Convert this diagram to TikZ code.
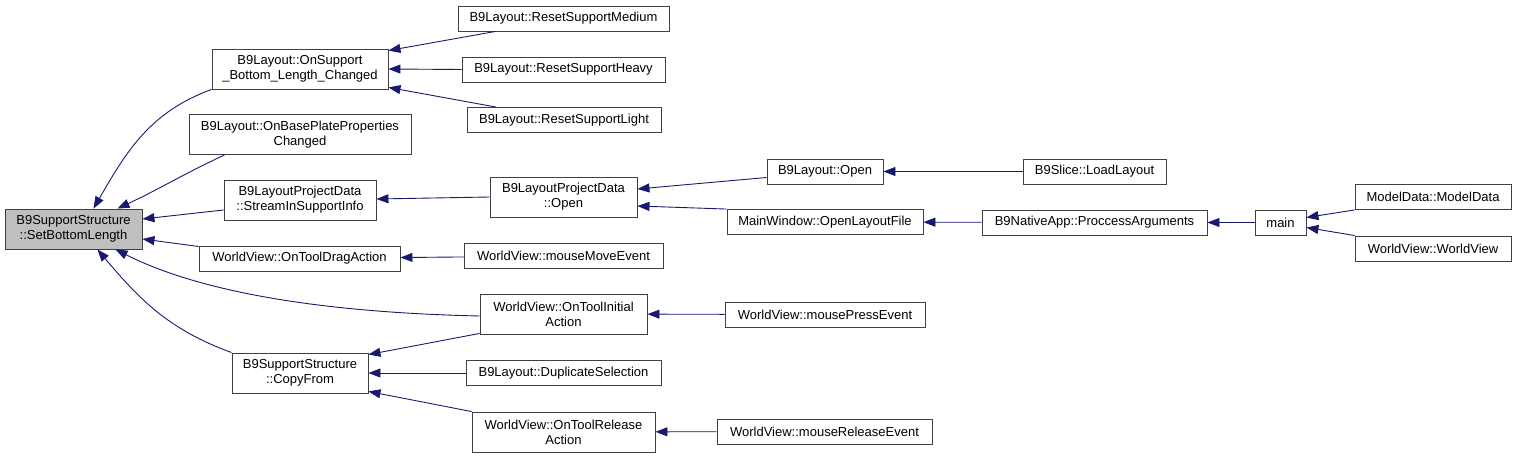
\documentclass[tikz,border=0pt]{standalone}
\usepackage{fontspec}
\setmainfont{Liberation Sans}
\usepackage{tikz}
\usetikzlibrary{arrows.meta}
\definecolor{dxblue}{HTML}{191970}
\definecolor{dxgrey}{HTML}{BFBFBF}
\definecolor{dxline}{HTML}{404040}

\begin{document}
\begin{tikzpicture}[x=1pt, y=1pt, font=\fontsize{13}{15}\selectfont,
        fn/.style={draw=dxline, line width=0.9pt, fill=white, align=center, inner sep=0pt, minimum height=25pt},
        fn2/.style={fn, minimum height=40pt},
        call/.style={draw=dxblue, line width=0.9pt, -{Triangle[length=12pt, width=9pt]}}]
        \useasboundingbox (0,0) rectangle (1517,-457);
        \node[fn2, fill=dxgrey, minimum width=137pt] (sbl) at (73.5,-229) {B9SupportStructure\\::SetBottomLength};
        \node[fn2, minimum width=176pt] (onsup) at (300,-69) {B9Layout::OnSupport\\\_Bottom\_Length\_Changed};
        \node[fn2, minimum width=222pt] (onbase) at (300,-134.5) {B9Layout::OnBasePlateProperties\\Changed};
        \node[fn2, minimum width=152pt] (stream) at (300,-200) {B9LayoutProjectData\\::StreamInSupportInfo};
        \node[fn, minimum width=201pt] (drag) at (299.5,-258.5) {WorldView::OnToolDragAction};
        \node[fn2, minimum width=136pt] (copy) at (300,-373) {B9SupportStructure\\::CopyFrom};
        \node[fn, minimum width=211pt] (medium) at (563.5,-18.5) {B9Layout::ResetSupportMedium};
        \node[fn, minimum width=203pt] (heavy) at (563.5,-69.5) {B9Layout::ResetSupportHeavy};
        \node[fn, minimum width=194pt] (light) at (564,-120) {B9Layout::ResetSupportLight};
        \node[fn2, minimum width=147pt] (pdopen) at (563.5,-197) {B9LayoutProjectData\\::Open};
        \node[fn, minimum width=199pt] (move) at (563.5,-256) {WorldView::mouseMoveEvent};
        \node[fn2, minimum width=167pt] (initial) at (563.5,-314) {WorldView::OnToolInitial\\Action};
        \node[fn, minimum width=195pt] (dup) at (563.5,-373) {B9Layout::DuplicateSelection};
        \node[fn2, minimum width=183pt] (release) at (563.5,-432) {WorldView::OnToolRelease\\Action};
        \node[fn, minimum width=116pt] (lopen) at (825,-171.5) {B9Layout::Open};
        \node[fn, minimum width=196pt] (openfile) at (825,-222) {MainWindow::OpenLayoutFile};
        \node[fn, minimum width=200pt] (press) at (825,-314.5) {WorldView::mousePressEvent};
        \node[fn, minimum width=215pt] (relev) at (824.5,-431.5) {WorldView::mouseReleaseEvent};
        \node[fn, minimum width=143pt] (load) at (1094.5,-171.5) {B9Slice::LoadLayout};
        \node[fn, minimum width=225pt] (native) at (1094.5,-222.5) {B9NativeApp::ProccessArguments};
        \node[fn, minimum width=51pt] (main) at (1280.5,-222.5) {main};
        \node[fn, minimum width=156pt] (model) at (1433,-197) {ModelData::ModelData};
        \node[fn, minimum width=156pt] (wview) at (1433,-248.5) {WorldView::WorldView};
        \draw[call] (onsup.south west) to[out=200, in=60] ([xshift=20pt]sbl.north);
        \draw[call] ([xshift=36pt]onbase.south west) to[out=205, in=25] ([xshift=44pt]sbl.north);
        \draw[call] ([yshift=-10pt]stream.west) -- ([yshift=10pt]sbl.east);
        \draw[call] ([yshift=12pt]drag.west) -- ([yshift=-10pt]sbl.east);
        \draw[call] ([yshift=-2pt]initial.west) .. controls (300,-312) and (190,-287) .. ([xshift=42pt]sbl.south);
        \draw[call] (copy.north west) to[out=160, in=-50] ([xshift=24pt]sbl.south);
        \draw[call] ([xshift=-68pt]medium.south) -- ([yshift=-2pt]onsup.north east);
        \draw[call] (heavy.west) -- (onsup.east);
        \draw[call] ([xshift=-68pt]light.north) -- ([yshift=2pt]onsup.south east);
        \draw[call] (pdopen.west) -- ([yshift=1pt]stream.east);
        \draw[call] ([yshift=-6pt]lopen.west) -- ([yshift=8pt]pdopen.east);
        \draw[call] (openfile.north west) -- ([yshift=-9pt]pdopen.east);
        \draw[call] (load) -- (lopen);
        \draw[call] (native) -- (openfile);
        \draw[call] (main) -- (native);
        \draw[call] (model.south west) -- ([yshift=5pt]main.east);
        \draw[call] (wview.north west) -- ([yshift=-5pt]main.east);
        \draw[call] (move) -- (drag);
        \draw[call] (press) -- (initial);
        \draw[call] ([yshift=1pt]initial.south west) -- ([yshift=-2pt]copy.north east);
        \draw[call] (dup) -- (copy);
        \draw[call] (release.north west) -- ([yshift=2pt]copy.south east);
        \draw[call] (relev) -- (release);
      \end{tikzpicture}
\end{document}
